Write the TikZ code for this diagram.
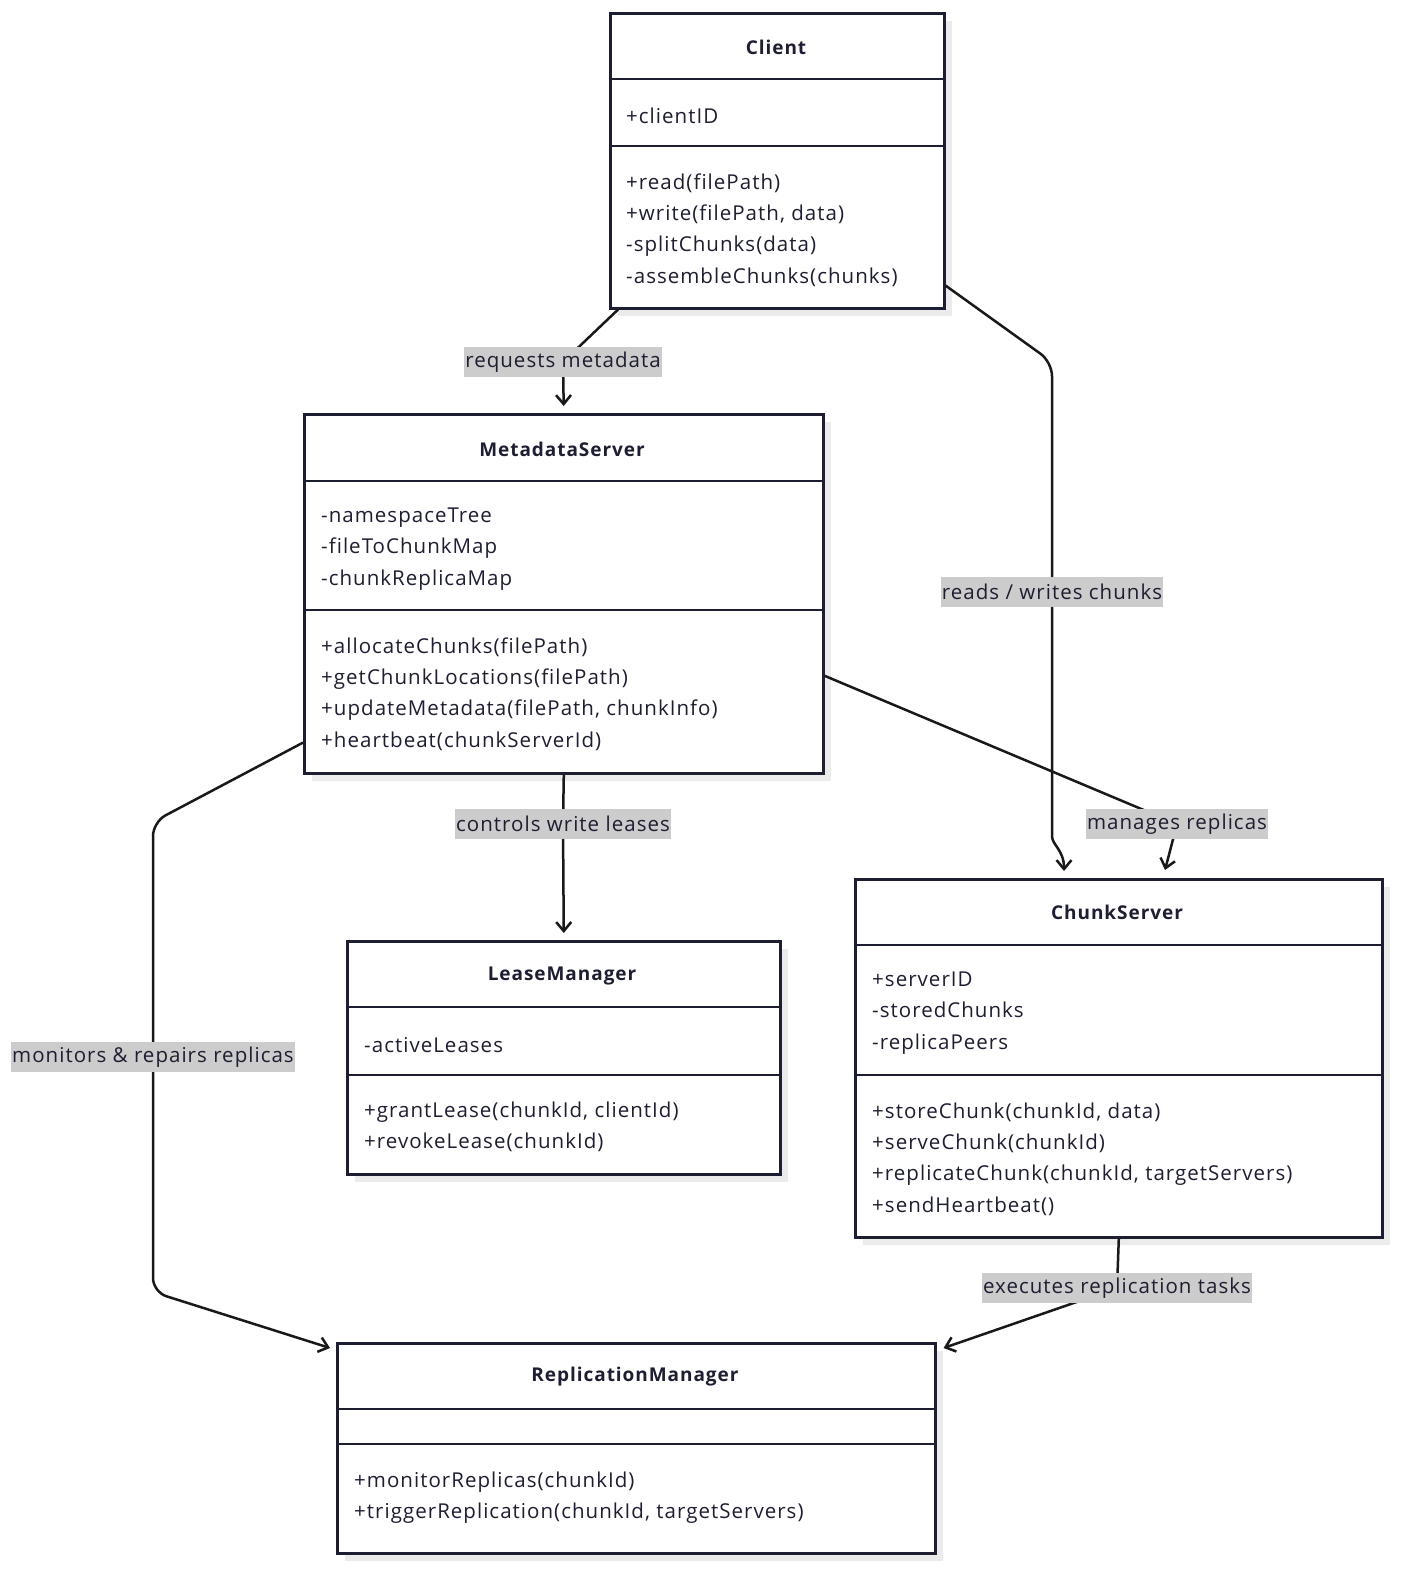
\documentclass[tikz,border=0pt]{standalone}
\usepackage{fontspec}
\setmainfont[Ligatures=CommonOff, LetterSpace=5]{Open Sans}
\usetikzlibrary{arrows.meta, positioning, calc, shadows}

\definecolor{ink}{HTML}{1E1E32}
\definecolor{shade}{HTML}{EBEBEB}
\definecolor{labelgray}{HTML}{CCCCCC}

\tikzset{
  classbox/.style={draw=ink, line width=2.6pt, fill=white, anchor=north west,
    inner sep=0pt, drop shadow={shadow xshift=8pt, shadow yshift=-8pt, fill=shade, opacity=1}},
  divider/.style={draw=ink, line width=2.6pt},
  classname/.style={font=\bfseries\fontsize{19}{24}\selectfont, text=ink, inner sep=0pt},
  members/.style={anchor=west, align=left, font=\fontsize{20.5}{31.3}\selectfont, text=ink,
    inner sep=0pt, yshift=-2pt},
  flow/.style={draw=black!90, line width=2.5pt, ->},
  edgelabel/.style={fill=labelgray, text=ink, font=\fontsize{20.5}{24}\selectfont, sharp corners,
    inner xsep=1pt, inner ysep=0pt, minimum height=30pt}
}

\begin{document}
\begin{tikzpicture}[x=1pt, y=-1pt, >={Straight Barb[length=9pt, width=15pt]}]
  \useasboundingbox (0,0) rectangle (1400,1573);

  % Client
  \node[classbox, minimum width=334pt, minimum height=295pt] (client) at (609,12) {};
  \draw[divider] ([yshift=-67pt]client.north west) -- ([yshift=-67pt]client.north east);
  \draw[divider] ([yshift=-134pt]client.north west) -- ([yshift=-134pt]client.north east);
  \node[classname] (clientname) at (776,47) {Client};
  \node[members] (clientattr) at (626,114) {+clientID};
  \node[members] (clientops) at (626,228) {+read(filePath)\\+write(filePath, data)\\-splitChunks(data)\\-assembleChunks(chunks)};

  % MetadataServer
  \node[classbox, minimum width=519pt, minimum height=359pt] (meta) at (303,413) {};
  \draw[divider] ([yshift=-68pt]meta.north west) -- ([yshift=-68pt]meta.north east);
  \draw[divider] ([yshift=-197pt]meta.north west) -- ([yshift=-197pt]meta.north east);
  \node[classname] (metaname) at (562,449) {MetadataServer};
  \node[members] (metaattr) at (321,547) {-namespaceTree\\-fileToChunkMap\\-chunkReplicaMap};
  \node[members] (metaops) at (321,692) {+allocateChunks(filePath)\\+getChunkLocations(filePath)\\+updateMetadata(filePath, chunkInfo)\\+heartbeat(chunkServerId)};

  % LeaseManager
  \node[classbox, minimum width=433pt, minimum height=233pt] (lease) at (346,940) {};
  \draw[divider] ([yshift=-67pt]lease.north west) -- ([yshift=-67pt]lease.north east);
  \draw[divider] ([yshift=-135pt]lease.north west) -- ([yshift=-135pt]lease.north east);
  \node[classname] (leasename) at (562,976) {LeaseManager};
  \node[members] (leaseattr) at (364,1043) {-activeLeases};
  \node[members] (leaseops) at (364,1125) {+grantLease(chunkId, clientId)\\+revokeLease(chunkId)};

  % ChunkServer
  \node[classbox, minimum width=527pt, minimum height=358pt] (chunk) at (854,878) {};
  \draw[divider] ([yshift=-67pt]chunk.north west) -- ([yshift=-67pt]chunk.north east);
  \draw[divider] ([yshift=-197pt]chunk.north west) -- ([yshift=-197pt]chunk.north east);
  \node[classname] (chunkname) at (1117,912) {ChunkServer};
  \node[members] (chunkattr) at (872,1011) {+serverID\\-storedChunks\\-replicaPeers};
  \node[members] (chunkops) at (872,1157) {+storeChunk(chunkId, data)\\+serveChunk(chunkId)\\+replicateChunk(chunkId, targetServers)\\+sendHeartbeat()};

  % ReplicationManager
  \node[classbox, minimum width=598pt, minimum height=210pt] (repl) at (336,1342) {};
  \draw[divider] ([yshift=-67pt]repl.north west) -- ([yshift=-67pt]repl.north east);
  \draw[divider] ([yshift=-102pt]repl.north west) -- ([yshift=-102pt]repl.north east);
  \node[classname] (replname) at (635,1377) {ReplicationManager};
  \node[members] (replops) at (354,1496) {+monitorReplicas(chunkId)\\+triggerReplication(chunkId, targetServers)};

  % connectors
  \draw[flow, shorten >=7pt] ([xshift=9pt]client.south west) -- (563,362)
    node[edgelabel] (lblreq) {requests metadata} -- (meta.north);
  \draw[flow, rounded corners=14pt] ([yshift=24pt]client.south east) -- (1052,362)
    -- node[edgelabel] (lblrw) {reads / writes chunks} (1052,822)
    [sharp corners] .. controls (1052,845) and (1064,850) .. ([xshift=210pt, yshift=7pt]chunk.north west);
  \draw[flow] ([yshift=-82pt]meta.east) -- (1177,824)
    node[edgelabel] (lblrep) {manages replicas} -- ([xshift=311pt, yshift=8pt]chunk.north west);
  \draw[flow, shorten >=7pt] (meta.south) -- (563,824)
    node[edgelabel] (lbllease) {controls write leases} -- (lease.north);
  \draw[flow, rounded corners=14pt] ([yshift=32pt]meta.south west) -- (153,822)
    -- node[edgelabel] (lblmon) {monitors \& repairs replicas} (153,1292)
    -- ([xshift=-6pt, yshift=-6pt]repl.north west);
  \draw[flow] (chunk.south) -- (1117,1288)
    node[edgelabel] (lblexec) {executes replication tasks} -- ([xshift=7pt, yshift=-6pt]repl.north east);
\end{tikzpicture}
\end{document}
